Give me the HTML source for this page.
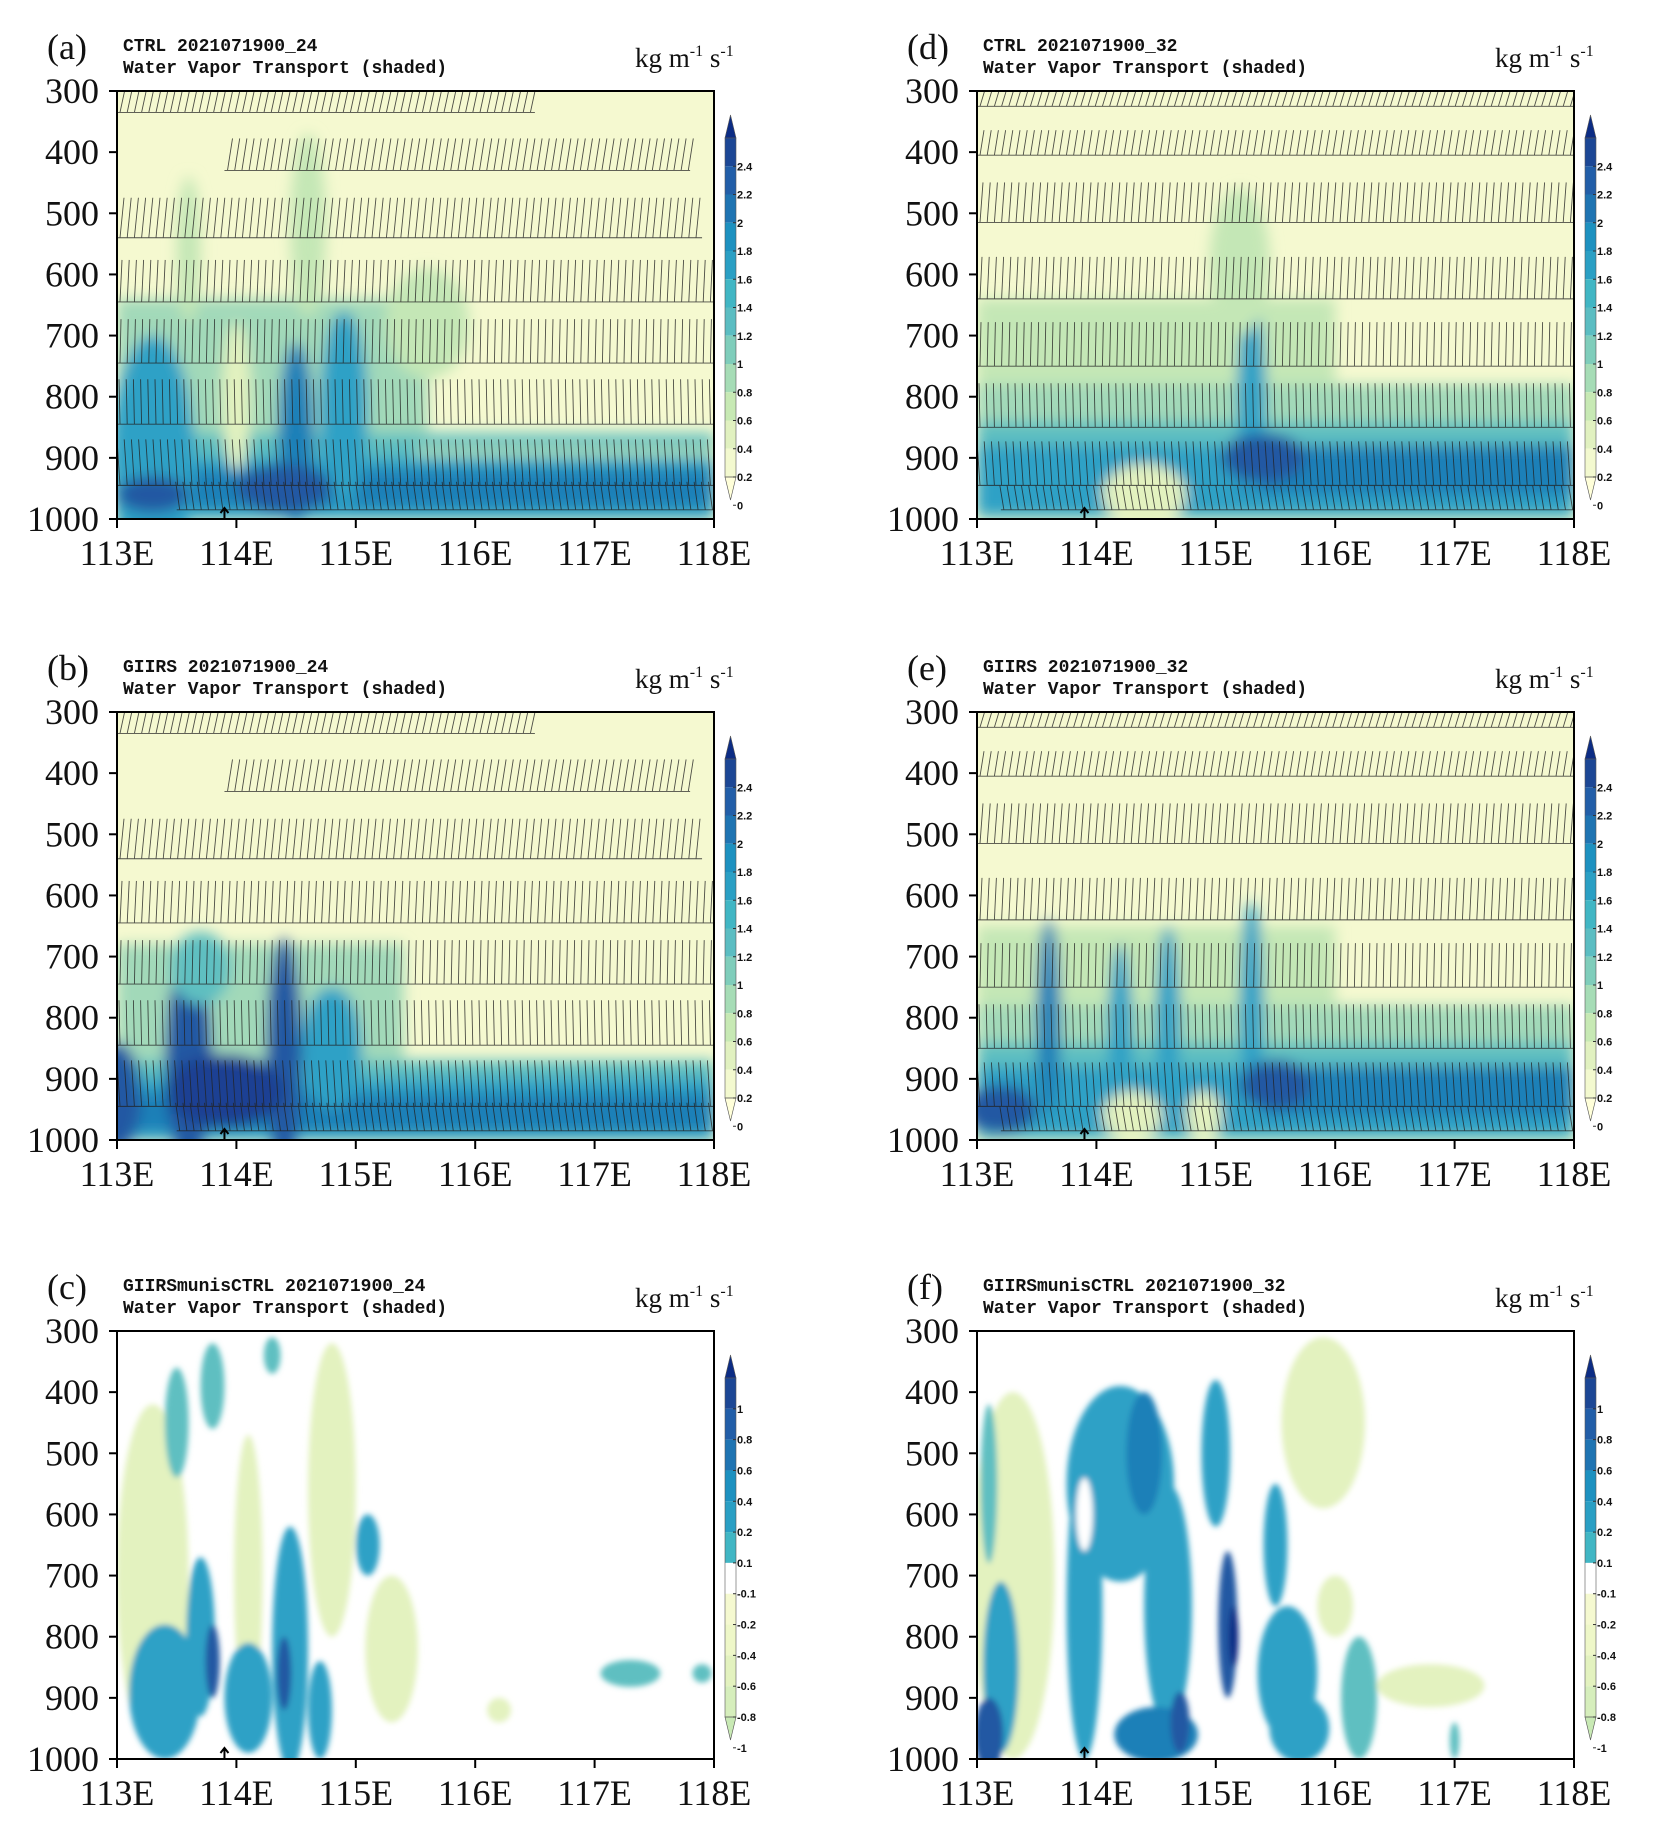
<!DOCTYPE html>
<html><head><meta charset="utf-8">
<style>
html,body{margin:0;padding:0;background:#fff;}
svg{display:block;}
.tk{font-family:"Liberation Serif",serif;font-size:36px;fill:#111;}
.tt{font-family:"Liberation Mono",monospace;font-size:18px;font-weight:bold;fill:#111;}
.cb{font-family:"Liberation Sans",sans-serif;font-size:11px;font-weight:bold;fill:#111;}
.un{font-family:"Liberation Serif",serif;font-size:27px;fill:#111;}
.sup{font-family:"Liberation Serif",serif;font-size:16px;fill:#111;}
</style></head>
<body>
<svg id="s" width="1653" height="1828" viewBox="0 0 1653 1828" xmlns="http://www.w3.org/2000/svg">
<defs>
<filter id="bl" x="-20%" y="-20%" width="140%" height="140%"><feGaussianBlur stdDeviation="7"/></filter>
<filter id="bl2" x="-20%" y="-20%" width="140%" height="140%"><feGaussianBlur stdDeviation="3"/></filter>
</defs>
</svg>
<script>
const NS="http://www.w3.org/2000/svg";
const S=document.getElementById('s');
function el(t,a,p,txt){const e=document.createElementNS(NS,t);for(const k in a)e.setAttribute(k,a[k]);if(txt!==undefined)e.textContent=txt;(p||S).appendChild(e);return e;}
const W=597,H=428;
const C={y0:'#f5f9d0',y1:'#e3f2bf',g1:'#c4e7b6',t0:'#a2d9b9',t1:'#5fbfc1',t2:'#2ea1c6',b1:'#1f80b8',b2:'#2159a3',b3:'#1c3f93',n:'#0c2c84'};
let pid=0;
function panel(ox,oy,letter,title,kind,shapes,barbs){
  const g=el('g',{transform:`translate(${ox},${oy})`});
  const X=l=>(l-113)/5*W, Y=p=>(p-300)/700*H;
  el('text',{x:-70,y:-32,class:'tk','font-size':'32'},g,letter);
  el('text',{x:6,y:-40,class:'tt'},g,title);
  el('text',{x:6,y:-18,class:'tt'},g,'Water Vapor Transport (shaded)');
  const u=el('text',{x:518,y:-24,class:'un'},g);u.innerHTML='kg m<tspan class="sup" dy="-11">-1</tspan><tspan dy="11"> s</tspan><tspan class="sup" dy="-11">-1</tspan>';
  const id='cp'+(pid++);
  const cp=el('clipPath',{id:id},g);el('rect',{x:0,y:0,width:W,height:H},cp);
  const f=el('g',{'clip-path':`url(#${id})`},g);
  el('rect',{x:0,y:0,width:W,height:H,fill:kind==='d'?'#fff':C.y0},f);
  const fg=el('g',{filter:kind==='d'?'url(#bl2)':'url(#bl)'},f);
  for(const s of shapes){
    if(s[0]==='r')el('rect',{x:X(s[1]),y:Y(s[2]),width:X(s[3])-X(s[1]),height:Y(s[4])-Y(s[2]),fill:s[5]},fg);
    else el('ellipse',{cx:X(s[1]),cy:Y(s[2]),rx:s[3]/5*W,ry:s[4]/700*H,fill:s[5]},fg);
  }
  if(barbs){
    let d='';
    for(const b of barbs){
      const [p,l0,l1,len,dx]=b;const yb=Y(p);
      d+=`M${X(l0)},${yb}L${X(l1)},${yb}`;
      for(let x=X(l0)+3;x<X(l1);x+=7.2){d+=`M${x.toFixed(1)},${yb}l${dx},${-len}`;}
    }
    el('path',{d:d,stroke:'#222','stroke-width':0.9,fill:'none',opacity:0.8},f);
  }
  el('rect',{x:0,y:0,width:W,height:H,fill:'none',stroke:'#000','stroke-width':2},g);
  for(let p=300;p<=1000;p+=100){const y=Y(p);el('line',{x1:-8,y1:y,x2:0,y2:y,stroke:'#000','stroke-width':2},g);el('text',{x:-18,y:y+12,class:'tk','text-anchor':'end'},g,p);}
  for(let l=113;l<=118;l++){const x=X(l);el('line',{x1:x,y1:H,x2:x,y2:H+9,stroke:'#000','stroke-width':2},g);el('text',{x:x,y:H+46,class:'tk','text-anchor':'middle'},g,l+'E');}
  el('path',{d:`M${X(113.9)},${H}l0,-10m-4,4l4,-5l4,5`,stroke:'#000','stroke-width':2,fill:'none'},g);
  const cx=W+11,cw=11,ct=24,cbH=385;
  let cols,labs;
  if(kind!=='d'){cols=['#ffffd9','#f3f9cf','#e1f1c0','#c7e9b4','#a6dcb6','#7fcdbb','#5bbdc2','#41b6c4','#2a9fc4','#1d91c0','#1f74b2','#225ea8','#1c4795','#0c2c84'];labs=['2.4','2.2','2','1.8','1.6','1.4','1.2','1','0.8','0.6','0.4','0.2','0'];}
  else{cols=['#c8e9b4','#d6eebc','#e3f2bf','#eef7c8','#f5f9d0','#ffffff','#41b6c4','#2a9fc4','#1d91c0','#1f74b2','#225ea8','#1c4795','#0c2c84'];labs=['1','0.8','0.6','0.4','0.2','0.1','-0.1','-0.2','-0.4','-0.6','-0.8','-1'];}
  const n=cols.length-2,seg=(cbH-46)/n;
  el('path',{d:`M${cx},${ct+23}L${cx+cw/2},${ct}L${cx+cw},${ct+23}Z`,fill:cols[cols.length-1],stroke:'#555','stroke-width':0.6},g);
  for(let i=0;i<n;i++){el('rect',{x:cx,y:ct+23+i*seg,width:cw,height:seg,fill:cols[cols.length-2-i]},g);}
  el('path',{d:`M${cx},${ct+23+n*seg}L${cx+cw/2},${ct+cbH}L${cx+cw},${ct+23+n*seg}Z`,fill:cols[0],stroke:'#555','stroke-width':0.6},g);
  el('rect',{x:cx,y:ct+23,width:cw,height:n*seg,fill:'none',stroke:'#555','stroke-width':0.6},g);
  for(let i=0;i<labs.length;i++){const y=ct+23+(i+1)*seg;el('line',{x1:cx+cw-3,y1:y,x2:cx+cw,y2:y,stroke:'#333'},g);el('text',{x:cx+cw+1,y:y+4,class:'cb'},g,labs[i]);}
}
const bA=[[335,113,116.5,28,6],[430,113.9,117.8,32,5],[540,113,117.9,40,4],[645,113,118,42,2],[745,113,118,44,1],[845,113,118,45,-1],[945,113,118,46,-3],[985,113.5,118,28,-4]];
const bD=[[325,113,118,20,6],[405,113,118,25,4],[515,113,118,40,3],[640,113,118,42,2],[750,113,118,44,1],[850,113,118,44,-1],[945,113,118,44,-3],[985,113.2,118,24,-4]];
const sA=[['r',113,640,115.6,1000,C.t0],['r',113,860,118,1000,C.t1],['r',113,900,118,1000,C.t2],['r',113,920,118,980,C.b1],['e',113.3,900,0.35,200,C.t2],['e',114.5,860,0.15,150,C.b1],['e',114.9,820,0.2,160,C.t2],['e',114.0,800,0.12,120,C.y1],['e',115.6,680,0.35,90,C.g1],['e',114.4,950,0.4,40,C.b2],['e',113.3,960,0.3,30,C.b2],['e',114.6,520,0.15,150,C.g1],['e',113.6,560,0.1,120,C.g1],['r',115.5,880,118,900,C.t0]];
const sB=[['r',113,680,115.4,1000,C.t0],['r',113,870,118,1000,C.t1],['r',113,900,118,1000,C.t2],['r',113,925,118,985,C.b1],['e',113.6,870,0.2,170,C.b2],['e',114.4,860,0.15,190,C.b2],['e',113.9,920,0.5,60,C.b3],['e',113.0,930,0.2,90,C.b2],['e',114.8,850,0.25,100,C.t2],['e',113.7,720,0.25,60,C.t1]];
const sD=[['r',113,640,116.0,1000,C.g1],['r',113,780,118,1000,C.t0],['r',113,840,118,1000,C.t1],['r',113,880,118,990,C.t2],['r',115.2,880,118,960,C.b1],['e',115.3,800,0.12,160,C.t2],['e',115.4,900,0.35,40,C.b2],['e',114.4,960,0.35,50,C.y1],['e',115.2,580,0.25,120,C.g1]];
const sE=[['r',113,650,116.0,1000,C.g1],['r',113,780,118,1000,C.t0],['r',113,840,118,1000,C.t1],['r',113,880,118,990,C.t2],['r',115.4,880,118,960,C.b1],['e',113.6,800,0.1,160,C.b1],['e',114.2,820,0.1,140,C.t2],['e',114.6,800,0.1,150,C.t2],['e',115.3,780,0.1,170,C.t2],['e',115.5,910,0.3,40,C.b2],['e',113.2,950,0.3,40,C.b2],['e',114.3,960,0.25,40,C.y1],['e',114.9,960,0.15,40,C.y1]];
const sC=[['e',113.3,700,0.3,280,C.y1],['e',114.1,700,0.12,230,C.y1],['e',114.8,560,0.2,240,C.y1],['e',115.3,820,0.22,120,C.y1],['e',113.5,450,0.1,90,C.t1],['e',113.8,390,0.1,70,C.t1],['e',114.3,340,0.07,30,C.t1],['e',113.4,890,0.3,110,C.t2],['e',113.7,800,0.12,130,C.t2],['e',113.8,840,0.06,60,C.b2],['e',114.45,820,0.15,200,C.t2],['e',114.4,860,0.06,60,C.b2],['e',114.1,900,0.2,90,C.t2],['e',114.7,920,0.1,80,C.t2],['e',115.1,650,0.1,50,C.t2],['e',117.3,860,0.25,22,C.t1],['e',117.9,860,0.08,15,C.t1],['e',116.2,920,0.1,20,C.y1]];
const sF=[['e',113.3,700,0.35,300,C.y1],['e',115.9,450,0.35,140,C.y1],['e',116.0,750,0.15,50,C.y1],['e',116.8,880,0.45,35,C.y1],['e',113.1,550,0.07,130,C.t1],['e',113.2,850,0.15,140,C.t2],['e',113.1,960,0.12,60,C.b2],['e',114.2,550,0.45,160,C.t2],['e',114.4,500,0.15,100,C.b1],['e',113.9,750,0.15,250,C.t2],['e',114.6,750,0.2,200,C.t2],['e',115.1,780,0.08,120,C.b2],['e',115.15,800,0.04,50,C.n],['e',115.0,500,0.12,120,C.t2],['e',115.5,650,0.1,100,C.t2],['e',115.6,860,0.25,110,C.t2],['e',114.5,960,0.35,45,C.b1],['e',114.7,940,0.08,50,C.b2],['e',115.7,950,0.25,55,C.t2],['e',116.2,900,0.15,100,C.t1],['e',117.0,970,0.04,30,C.t1],['e',113.9,600,0.07,60,'#fff']];
panel(117,91,'(a)','CTRL 2021071900_24','a',sA,bA);
panel(977,91,'(d)','CTRL 2021071900_32','a',sD,bD);
panel(117,712,'(b)','GIIRS 2021071900_24','a',sB,bA);
panel(977,712,'(e)','GIIRS 2021071900_32','a',sE,bD);
panel(117,1331,'(c)','GIIRSmunisCTRL 2021071900_24','d',sC,null);
panel(977,1331,'(f)','GIIRSmunisCTRL 2021071900_32','d',sF,null);
</script>
</body></html>
